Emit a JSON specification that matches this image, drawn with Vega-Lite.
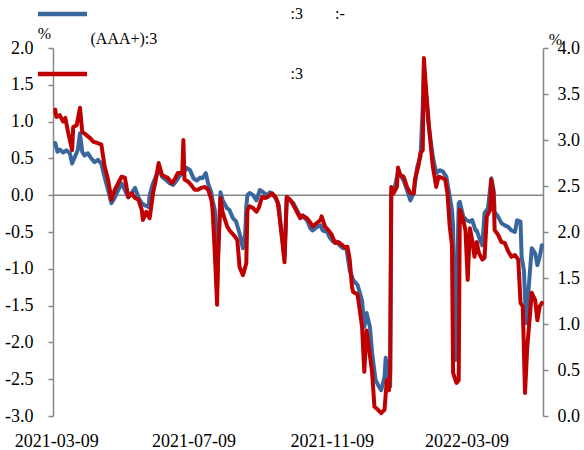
{
  "$schema": "https://vega.github.io/schema/vega-lite/v6.json",
  "width": 490,
  "height": 368,
  "autosize": {"type": "none"},
  "padding": {"left": 53, "top": 48, "right": 41, "bottom": 34},
  "background": "white",
  "config": {
    "view": {"stroke": null},
    "font": "Liberation Serif",
    "locale": {"number": {"decimal": ".", "thousands": ",", "grouping": [3], "currency": ["$", ""], "minus": "-"}},
    "style": {"guide-label": {"lineHeight": 25}},
    "axis": {
      "labelFont": "Liberation Serif",
      "labelFontSize": 18,
      "labelColor": "#000000",
      "labelOverlap": false,
      "labelSeparation": 0,
      "domainColor": "#878787",
      "domainWidth": 1.5,
      "tickColor": "#878787",
      "tickWidth": 1.5,
      "grid": false,
      "titleFont": "Liberation Serif",
      "titleFontWeight": "normal",
      "titleColor": "#000000"
    }
  },
  "datasets": {
    "blue": [
      {"d": "2021-03-08", "v": 0.71}, {"d": "2021-03-10", "v": 0.59}, {"d": "2021-03-12", "v": 0.62}, {"d": "2021-03-15", "v": 0.58},
      {"d": "2021-03-18", "v": 0.61}, {"d": "2021-03-21", "v": 0.57}, {"d": "2021-03-23", "v": 0.43}, {"d": "2021-03-26", "v": 0.54},
      {"d": "2021-03-28", "v": 0.61}, {"d": "2021-03-30", "v": 0.84}, {"d": "2021-04-01", "v": 0.59}, {"d": "2021-04-03", "v": 0.54},
      {"d": "2021-04-06", "v": 0.57}, {"d": "2021-04-09", "v": 0.50}, {"d": "2021-04-12", "v": 0.45}, {"d": "2021-04-15", "v": 0.48},
      {"d": "2021-04-18", "v": 0.43}, {"d": "2021-04-21", "v": 0.24}, {"d": "2021-04-24", "v": 0.07}, {"d": "2021-04-27", "v": -0.11},
      {"d": "2021-04-30", "v": -0.03}, {"d": "2021-05-03", "v": 0.07}, {"d": "2021-05-06", "v": 0.16}, {"d": "2021-05-09", "v": 0.07},
      {"d": "2021-05-12", "v": -0.03}, {"d": "2021-05-15", "v": 0.03}, {"d": "2021-05-18", "v": 0.10}, {"d": "2021-05-21", "v": -0.03},
      {"d": "2021-05-24", "v": -0.11}, {"d": "2021-05-27", "v": -0.14}, {"d": "2021-05-30", "v": -0.16}, {"d": "2021-05-31", "v": 0.00},
      {"d": "2021-06-03", "v": 0.16}, {"d": "2021-06-06", "v": 0.27}, {"d": "2021-06-08", "v": 0.37}, {"d": "2021-06-11", "v": 0.25},
      {"d": "2021-06-15", "v": 0.20}, {"d": "2021-06-18", "v": 0.16}, {"d": "2021-06-21", "v": 0.14}, {"d": "2021-06-24", "v": 0.20},
      {"d": "2021-06-27", "v": 0.27}, {"d": "2021-06-30", "v": 0.30}, {"d": "2021-07-03", "v": 0.37}, {"d": "2021-07-06", "v": 0.34},
      {"d": "2021-07-09", "v": 0.23}, {"d": "2021-07-12", "v": 0.20}, {"d": "2021-07-15", "v": 0.24}, {"d": "2021-07-17", "v": 0.23},
      {"d": "2021-07-20", "v": 0.30}, {"d": "2021-07-22", "v": 0.16}, {"d": "2021-07-25", "v": 0.03}, {"d": "2021-07-26", "v": -0.07},
      {"d": "2021-07-28", "v": -0.20}, {"d": "2021-07-30", "v": -1.22}, {"d": "2021-08-02", "v": 0.04}, {"d": "2021-08-04", "v": -0.07},
      {"d": "2021-08-08", "v": -0.18}, {"d": "2021-08-10", "v": -0.20}, {"d": "2021-08-13", "v": -0.31}, {"d": "2021-08-16", "v": -0.36},
      {"d": "2021-08-19", "v": -0.52}, {"d": "2021-08-22", "v": -0.72}, {"d": "2021-08-24", "v": -0.52}, {"d": "2021-08-25", "v": -0.16},
      {"d": "2021-08-26", "v": 0.00}, {"d": "2021-08-28", "v": 0.03}, {"d": "2021-08-31", "v": 0.00}, {"d": "2021-09-03", "v": -0.07},
      {"d": "2021-09-06", "v": 0.07}, {"d": "2021-09-09", "v": 0.04}, {"d": "2021-09-12", "v": 0.00}, {"d": "2021-09-15", "v": 0.04},
      {"d": "2021-09-18", "v": 0.00}, {"d": "2021-09-20", "v": -0.04}, {"d": "2021-09-23", "v": -0.14}, {"d": "2021-09-25", "v": -0.48},
      {"d": "2021-09-28", "v": -0.82}, {"d": "2021-09-30", "v": -0.02}, {"d": "2021-10-03", "v": -0.07}, {"d": "2021-10-06", "v": -0.11},
      {"d": "2021-10-09", "v": -0.20}, {"d": "2021-10-12", "v": -0.29}, {"d": "2021-10-14", "v": -0.29}, {"d": "2021-10-18", "v": -0.34},
      {"d": "2021-10-21", "v": -0.45}, {"d": "2021-10-23", "v": -0.48}, {"d": "2021-10-27", "v": -0.43}, {"d": "2021-10-30", "v": -0.41},
      {"d": "2021-11-01", "v": -0.48}, {"d": "2021-11-05", "v": -0.50}, {"d": "2021-11-07", "v": -0.57}, {"d": "2021-11-10", "v": -0.63},
      {"d": "2021-11-13", "v": -0.63}, {"d": "2021-11-16", "v": -0.68}, {"d": "2021-11-19", "v": -0.72}, {"d": "2021-11-22", "v": -0.72},
      {"d": "2021-11-25", "v": -1.02}, {"d": "2021-11-28", "v": -1.15}, {"d": "2021-12-02", "v": -1.22}, {"d": "2021-12-06", "v": -1.43},
      {"d": "2021-12-08", "v": -1.79}, {"d": "2021-12-10", "v": -1.60}, {"d": "2021-12-13", "v": -1.79}, {"d": "2021-12-15", "v": -2.15},
      {"d": "2021-12-18", "v": -2.51}, {"d": "2021-12-21", "v": -2.60}, {"d": "2021-12-23", "v": -2.65}, {"d": "2021-12-26", "v": -2.47},
      {"d": "2021-12-27", "v": -2.21}, {"d": "2021-12-29", "v": -2.47}, {"d": "2021-12-31", "v": -2.60}, {"d": "2022-01-01", "v": 0.03},
      {"d": "2022-01-04", "v": 0.10}, {"d": "2022-01-07", "v": 0.32}, {"d": "2022-01-12", "v": 0.20}, {"d": "2022-01-15", "v": 0.07},
      {"d": "2022-01-18", "v": -0.07}, {"d": "2022-01-21", "v": 0.03}, {"d": "2022-01-24", "v": 0.38}, {"d": "2022-01-27", "v": 0.52},
      {"d": "2022-01-29", "v": 1.20}, {"d": "2022-01-30", "v": 1.73}, {"d": "2022-02-03", "v": 0.98}, {"d": "2022-02-07", "v": 0.52},
      {"d": "2022-02-10", "v": 0.30}, {"d": "2022-02-13", "v": 0.34}, {"d": "2022-02-16", "v": 0.32}, {"d": "2022-02-19", "v": 0.25},
      {"d": "2022-02-22", "v": -0.02}, {"d": "2022-02-24", "v": -0.20}, {"d": "2022-02-25", "v": -0.43}, {"d": "2022-02-27", "v": -2.24},
      {"d": "2022-03-02", "v": -0.11}, {"d": "2022-03-03", "v": -0.09}, {"d": "2022-03-06", "v": -0.29}, {"d": "2022-03-09", "v": -0.34},
      {"d": "2022-03-12", "v": -0.36}, {"d": "2022-03-14", "v": -0.34}, {"d": "2022-03-17", "v": -0.48}, {"d": "2022-03-18", "v": -0.48},
      {"d": "2022-03-21", "v": -0.61}, {"d": "2022-03-23", "v": -0.68}, {"d": "2022-03-25", "v": -0.24}, {"d": "2022-03-28", "v": -0.18},
      {"d": "2022-03-31", "v": 0.23}, {"d": "2022-04-02", "v": 0.07}, {"d": "2022-04-03", "v": -0.23}, {"d": "2022-04-06", "v": -0.29},
      {"d": "2022-04-09", "v": -0.38}, {"d": "2022-04-12", "v": -0.41}, {"d": "2022-04-15", "v": -0.43}, {"d": "2022-04-18", "v": -0.48},
      {"d": "2022-04-21", "v": -0.50}, {"d": "2022-04-23", "v": -0.34}, {"d": "2022-04-26", "v": -0.36}, {"d": "2022-04-27", "v": -0.84},
      {"d": "2022-04-29", "v": -1.02}, {"d": "2022-05-01", "v": -1.74}, {"d": "2022-05-04", "v": -1.11}, {"d": "2022-05-06", "v": -0.72},
      {"d": "2022-05-09", "v": -0.79}, {"d": "2022-05-11", "v": -0.95}, {"d": "2022-05-13", "v": -0.84}, {"d": "2022-05-15", "v": -0.68}
    ],
    "red": [
      {"d": "2021-03-08", "v": 3.33}, {"d": "2021-03-09", "v": 3.25}, {"d": "2021-03-12", "v": 3.27}, {"d": "2021-03-15", "v": 3.20},
      {"d": "2021-03-17", "v": 3.24}, {"d": "2021-03-19", "v": 3.11}, {"d": "2021-03-23", "v": 2.89}, {"d": "2021-03-24", "v": 3.14},
      {"d": "2021-03-27", "v": 3.16}, {"d": "2021-03-30", "v": 3.35}, {"d": "2021-04-01", "v": 3.09}, {"d": "2021-04-05", "v": 3.05},
      {"d": "2021-04-08", "v": 3.02}, {"d": "2021-04-11", "v": 2.98}, {"d": "2021-04-14", "v": 2.97}, {"d": "2021-04-18", "v": 2.95},
      {"d": "2021-04-21", "v": 2.71}, {"d": "2021-04-24", "v": 2.57}, {"d": "2021-04-27", "v": 2.35}, {"d": "2021-04-30", "v": 2.46},
      {"d": "2021-05-03", "v": 2.53}, {"d": "2021-05-06", "v": 2.60}, {"d": "2021-05-09", "v": 2.59}, {"d": "2021-05-12", "v": 2.38},
      {"d": "2021-05-15", "v": 2.42}, {"d": "2021-05-18", "v": 2.37}, {"d": "2021-05-21", "v": 2.35}, {"d": "2021-05-24", "v": 2.24},
      {"d": "2021-05-25", "v": 2.13}, {"d": "2021-05-28", "v": 2.22}, {"d": "2021-05-31", "v": 2.15}, {"d": "2021-06-03", "v": 2.42},
      {"d": "2021-06-06", "v": 2.60}, {"d": "2021-06-08", "v": 2.75}, {"d": "2021-06-11", "v": 2.62}, {"d": "2021-06-14", "v": 2.60},
      {"d": "2021-06-16", "v": 2.59}, {"d": "2021-06-20", "v": 2.53}, {"d": "2021-06-23", "v": 2.59}, {"d": "2021-06-25", "v": 2.64},
      {"d": "2021-06-29", "v": 2.64}, {"d": "2021-06-30", "v": 3.00}, {"d": "2021-07-01", "v": 2.57}, {"d": "2021-07-04", "v": 2.55},
      {"d": "2021-07-07", "v": 2.51}, {"d": "2021-07-10", "v": 2.46}, {"d": "2021-07-13", "v": 2.46}, {"d": "2021-07-16", "v": 2.48},
      {"d": "2021-07-19", "v": 2.49}, {"d": "2021-07-22", "v": 2.46}, {"d": "2021-07-25", "v": 2.35}, {"d": "2021-07-26", "v": 2.24},
      {"d": "2021-07-28", "v": 1.77}, {"d": "2021-07-30", "v": 1.21}, {"d": "2021-07-31", "v": 1.77}, {"d": "2021-08-02", "v": 2.37},
      {"d": "2021-08-04", "v": 2.21}, {"d": "2021-08-08", "v": 2.06}, {"d": "2021-08-10", "v": 2.02}, {"d": "2021-08-12", "v": 1.99},
      {"d": "2021-08-15", "v": 1.95}, {"d": "2021-08-17", "v": 1.91}, {"d": "2021-08-19", "v": 1.62}, {"d": "2021-08-22", "v": 1.53},
      {"d": "2021-08-25", "v": 1.66}, {"d": "2021-08-26", "v": 2.24}, {"d": "2021-08-28", "v": 2.28}, {"d": "2021-08-31", "v": 2.26},
      {"d": "2021-09-03", "v": 2.22}, {"d": "2021-09-05", "v": 2.26}, {"d": "2021-09-08", "v": 2.38}, {"d": "2021-09-11", "v": 2.37},
      {"d": "2021-09-13", "v": 2.38}, {"d": "2021-09-17", "v": 2.42}, {"d": "2021-09-20", "v": 2.38}, {"d": "2021-09-22", "v": 2.32},
      {"d": "2021-09-25", "v": 2.02}, {"d": "2021-09-28", "v": 1.67}, {"d": "2021-09-29", "v": 2.02}, {"d": "2021-09-30", "v": 2.38},
      {"d": "2021-10-03", "v": 2.35}, {"d": "2021-10-06", "v": 2.29}, {"d": "2021-10-09", "v": 2.22}, {"d": "2021-10-12", "v": 2.15},
      {"d": "2021-10-14", "v": 2.18}, {"d": "2021-10-18", "v": 2.15}, {"d": "2021-10-21", "v": 2.10}, {"d": "2021-10-23", "v": 2.06},
      {"d": "2021-10-27", "v": 2.10}, {"d": "2021-10-30", "v": 2.13}, {"d": "2021-10-31", "v": 2.17}, {"d": "2021-11-03", "v": 2.06},
      {"d": "2021-11-06", "v": 2.02}, {"d": "2021-11-09", "v": 1.97}, {"d": "2021-11-12", "v": 1.88}, {"d": "2021-11-15", "v": 1.89},
      {"d": "2021-11-18", "v": 1.86}, {"d": "2021-11-21", "v": 1.83}, {"d": "2021-11-23", "v": 1.84}, {"d": "2021-11-25", "v": 1.70},
      {"d": "2021-11-27", "v": 1.41}, {"d": "2021-11-28", "v": 1.35}, {"d": "2021-12-02", "v": 1.32}, {"d": "2021-12-06", "v": 0.97},
      {"d": "2021-12-08", "v": 0.48}, {"d": "2021-12-10", "v": 0.93}, {"d": "2021-12-12", "v": 0.75}, {"d": "2021-12-15", "v": 0.47},
      {"d": "2021-12-17", "v": 0.10}, {"d": "2021-12-20", "v": 0.07}, {"d": "2021-12-23", "v": 0.03}, {"d": "2021-12-26", "v": 0.07},
      {"d": "2021-12-28", "v": 0.39}, {"d": "2021-12-30", "v": 0.28}, {"d": "2021-12-31", "v": 0.47}, {"d": "2022-01-01", "v": 2.49},
      {"d": "2022-01-03", "v": 2.42}, {"d": "2022-01-06", "v": 2.49}, {"d": "2022-01-07", "v": 2.70}, {"d": "2022-01-09", "v": 2.62},
      {"d": "2022-01-12", "v": 2.60}, {"d": "2022-01-15", "v": 2.49}, {"d": "2022-01-18", "v": 2.42}, {"d": "2022-01-21", "v": 2.42},
      {"d": "2022-01-22", "v": 2.57}, {"d": "2022-01-25", "v": 2.71}, {"d": "2022-01-27", "v": 2.86}, {"d": "2022-01-29", "v": 2.89},
      {"d": "2022-01-30", "v": 3.89}, {"d": "2022-02-01", "v": 3.54}, {"d": "2022-02-04", "v": 3.08}, {"d": "2022-02-07", "v": 2.71},
      {"d": "2022-02-10", "v": 2.49}, {"d": "2022-02-12", "v": 2.60}, {"d": "2022-02-15", "v": 2.59}, {"d": "2022-02-18", "v": 2.57},
      {"d": "2022-02-20", "v": 2.42}, {"d": "2022-02-22", "v": 2.06}, {"d": "2022-02-24", "v": 1.86}, {"d": "2022-02-25", "v": 0.47},
      {"d": "2022-02-28", "v": 0.36}, {"d": "2022-03-02", "v": 0.39}, {"d": "2022-03-03", "v": 2.24}, {"d": "2022-03-06", "v": 2.13},
      {"d": "2022-03-08", "v": 2.02}, {"d": "2022-03-10", "v": 1.48}, {"d": "2022-03-12", "v": 2.04}, {"d": "2022-03-14", "v": 1.91},
      {"d": "2022-03-16", "v": 1.73}, {"d": "2022-03-18", "v": 1.89}, {"d": "2022-03-20", "v": 1.77}, {"d": "2022-03-23", "v": 1.70},
      {"d": "2022-03-25", "v": 1.72}, {"d": "2022-03-27", "v": 2.17}, {"d": "2022-03-30", "v": 2.24}, {"d": "2022-03-31", "v": 2.57},
      {"d": "2022-04-02", "v": 2.42}, {"d": "2022-04-03", "v": 2.02}, {"d": "2022-04-06", "v": 1.97}, {"d": "2022-04-09", "v": 1.89},
      {"d": "2022-04-12", "v": 1.88}, {"d": "2022-04-15", "v": 1.79}, {"d": "2022-04-18", "v": 1.73}, {"d": "2022-04-21", "v": 1.75},
      {"d": "2022-04-24", "v": 1.70}, {"d": "2022-04-26", "v": 1.23}, {"d": "2022-04-28", "v": 1.19}, {"d": "2022-04-30", "v": 0.25},
      {"d": "2022-05-02", "v": 0.75}, {"d": "2022-05-04", "v": 1.04}, {"d": "2022-05-06", "v": 1.34}, {"d": "2022-05-09", "v": 1.26},
      {"d": "2022-05-11", "v": 1.04}, {"d": "2022-05-13", "v": 1.19}, {"d": "2022-05-15", "v": 1.23}
    ]
  },
  "resolve": {"scale": {"y": "independent"}},
  "layer": [
    {
      "layer": [
        {
          "data": {"values": [{"v": 0}]},
          "mark": {"type": "rule", "color": "#878787", "strokeWidth": 1.5},
          "encoding": {
            "y": {
              "field": "v", "type": "quantitative",
              "scale": {"domain": [-3, 2], "nice": false, "zero": false},
              "axis": {
                "orient": "left",
                "values": [-3, -2.5, -2, -1.5, -1, -0.5, 0, 0.5, 1, 1.5, 2],
                "format": ".1f",
                "labelOverlap": false,
                "labelSeparation": 0,
                "tickSize": 5, "labelPadding": 15,
                "title": "%", "titleAngle": 0, "titleX": -9, "titleY": -15,
                "titleAlign": "center", "titleBaseline": "middle", "titleFontSize": 16
              }
            }
          }
        },
        {
          "data": {"name": "blue"},
          "mark": {"type": "line", "strokeWidth": 4, "strokeJoin": "round", "strokeCap": "round"},
          "encoding": {
            "x": {
              "field": "d", "type": "temporal",
              "scale": {"type": "utc", "domain": [{"year": 2021, "month": 3, "date": 6, "utc": true}, {"year": 2022, "month": 5, "date": 16, "utc": true}]},
              "axis": {
                "title": null, "domain": false, "ticks": false, "tickSize": 0, "labelPadding": 16,
                "format": "%Y-%m-%d", "labelAlign": "center",
                "values": [
                  {"year": 2021, "month": 3, "date": 9, "utc": true},
                  {"year": 2021, "month": 7, "date": 9, "utc": true},
                  {"year": 2021, "month": 11, "date": 9, "utc": true},
                  {"year": 2022, "month": 3, "date": 9, "utc": true}
                ]
              }
            },
            "y": {
              "field": "v", "type": "quantitative",
              "scale": {"domain": [-3, 2], "nice": false, "zero": false},
              "axis": {
                "orient": "left",
                "values": [-3, -2.5, -2, -1.5, -1, -0.5, 0, 0.5, 1, 1.5, 2],
                "format": ".1f",
                "labelOverlap": false,
                "labelSeparation": 0,
                "tickSize": 5, "labelPadding": 15,
                "title": "%", "titleAngle": 0, "titleX": -9, "titleY": -15,
                "titleAlign": "center", "titleBaseline": "middle", "titleFontSize": 16
              }
            },
            "color": {
              "datum": "B",
              "scale": {"domain": ["B", "R"], "range": ["#3a669e", "#c00000"]},
              "legend": {
                "title": null,
                "orient": "none",
                "legendX": -17.5,
                "legendY": -61,
                "direction": "vertical",
                "padding": 0,
                "symbolType": "stroke",
                "symbolSize": 2401,
                "symbolStrokeWidth": 4.5,
                "labelFont": "Liberation Serif",
                "labelFontSize": 16,
                "labelColor": "#000000",
                "labelOffset": 1,
                "labelLimit": 2000,
                "labelBaseline": "middle",
                "rowPadding": -6,
                "labelExpr": "datum.label == 'B' ? ['\u200b\u00a0\u00a0\u00a0\u00a0\u00a0\u00a0\u00a0\u00a0\u00a0\u00a0\u00a0\u00a0\u00a0\u00a0\u00a0\u00a0\u00a0\u00a0\u00a0\u00a0\u00a0\u00a0\u00a0\u00a0\u00a0\u00a0\u00a0\u00a0\u00a0\u00a0\u00a0\u00a0\u00a0\u00a0\u00a0\u00a0\u00a0\u00a0\u00a0\u00a0\u00a0\u00a0\u00a0\u00a0\u00a0\u00a0\u00a0\u00a0\u00a0\u00a0:3\u00a0\u00a0\u00a0\u00a0\u00a0\u00a0\u00a0\u00a0:-', '(AAA+):3'] : ['\u200b\u00a0\u00a0\u00a0\u00a0\u00a0\u00a0\u00a0\u00a0\u00a0\u00a0\u00a0\u00a0\u00a0\u00a0\u00a0\u00a0\u00a0\u00a0\u00a0\u00a0\u00a0\u00a0\u00a0\u00a0\u00a0\u00a0\u00a0\u00a0\u00a0\u00a0\u00a0\u00a0\u00a0\u00a0\u00a0\u00a0\u00a0\u00a0\u00a0\u00a0\u00a0\u00a0\u00a0\u00a0\u00a0\u00a0\u00a0\u00a0\u00a0\u00a0:3']"
              }
            }
          }
        }
      ]
    },
    {
      "data": {"name": "red"},
      "mark": {"type": "line", "strokeWidth": 4, "strokeJoin": "round", "strokeCap": "round"},
      "encoding": {
        "x": {
          "field": "d", "type": "temporal",
          "scale": {"type": "utc", "domain": [{"year": 2021, "month": 3, "date": 6, "utc": true}, {"year": 2022, "month": 5, "date": 16, "utc": true}]}
        },
        "y": {
          "field": "v", "type": "quantitative",
          "scale": {"domain": [0, 4], "nice": false, "zero": false},
          "axis": {
            "orient": "right",
            "values": [0, 0.5, 1, 1.5, 2, 2.5, 3, 3.5, 4],
            "format": ".1f",
            "tickSize": 5, "labelPadding": 9,
            "title": "%", "titleAngle": 0, "titleX": 12, "titleY": -9,
            "titleAlign": "center", "titleBaseline": "middle", "titleFontSize": 16
          }
        },
        "color": {"datum": "R"}
      }
    }
  ]
}
